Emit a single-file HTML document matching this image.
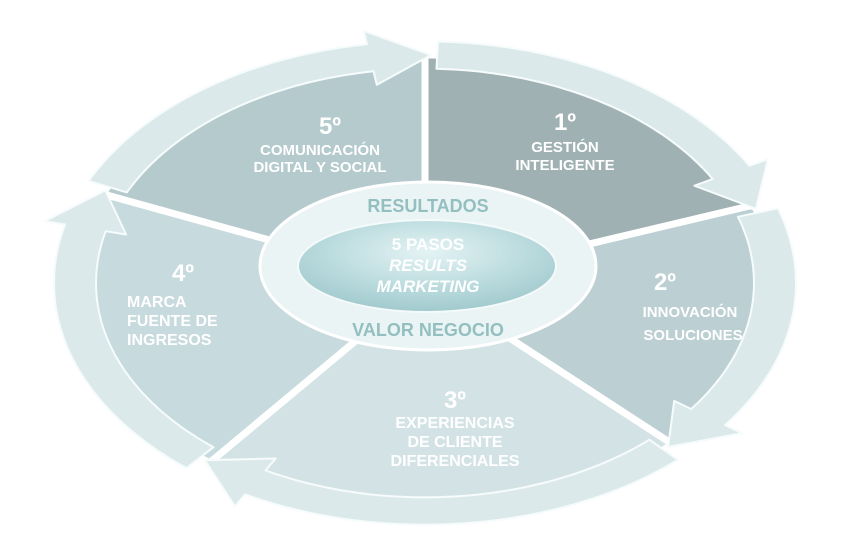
<!DOCTYPE html>
<html><head><meta charset="utf-8">
<style>
html,body{margin:0;padding:0;background:#fff;}
svg{display:block;}
text{font-family:"Liberation Sans",sans-serif;font-weight:bold;fill:#fff;}
</style></head>
<body>
<svg id="s" width="850" height="555" viewBox="0 0 850 555" xmlns="http://www.w3.org/2000/svg">
<defs>
<radialGradient id="inner" cx="50%" cy="35%" r="70%">
<stop offset="0" stop-color="#e4f3f4"/><stop offset="0.6" stop-color="#b7d9dc"/><stop offset="1" stop-color="#9cc6ca"/>
</radialGradient>
</defs>
<g id="wedges"></g>
<g id="bands"></g>
<ellipse cx="428" cy="266" rx="168" ry="84" fill="#eaf4f5" stroke="#fff" stroke-width="3"/>
<ellipse cx="427" cy="266" rx="129" ry="46" fill="url(#inner)" stroke="#f4fafa" stroke-width="2"/>
<text x="428" y="212" text-anchor="middle" font-size="18" style="fill:#93bfc0">RESULTADOS</text>
<text x="428" y="336" text-anchor="middle" font-size="18" style="fill:#93bfc0">VALOR NEGOCIO</text>
<text x="428" y="250" text-anchor="middle" font-size="17">5 PASOS</text>
<text x="428" y="271" text-anchor="middle" font-size="17" font-style="italic">RESULTS</text>
<text x="428" y="292" text-anchor="middle" font-size="17" font-style="italic">MARKETING</text>

<g font-size="15">
<text x="330" y="134" text-anchor="middle" font-size="24">5º</text>
<text x="320" y="155" text-anchor="middle">COMUNICACIÓN</text>
<text x="320" y="172" text-anchor="middle">DIGITAL Y SOCIAL</text>
<text x="565" y="130" text-anchor="middle" font-size="24">1º</text>
<text x="565" y="152" text-anchor="middle">GESTIÓN</text>
<text x="565" y="170" text-anchor="middle">INTELIGENTE</text>
<text x="665" y="290" text-anchor="middle" font-size="24">2º</text>
<text x="690" y="317" text-anchor="middle">INNOVACIÓN</text>
<text x="693" y="340" text-anchor="middle">SOLUCIONES</text>
<text x="455" y="408" text-anchor="middle" font-size="24">3º</text>
<text x="455" y="428" text-anchor="middle" font-size="16">EXPERIENCIAS</text>
<text x="455" y="447" text-anchor="middle" font-size="16">DE CLIENTE</text>
<text x="455" y="466" text-anchor="middle" font-size="16">DIFERENCIALES</text>
<text x="183" y="281" text-anchor="middle" font-size="24">4º</text>
<text x="127" y="307" font-size="16">MARCA</text>
<text x="127" y="326" font-size="16">FUENTE DE</text>
<text x="127" y="345" font-size="16">INGRESOS</text>
</g>
</svg>
<script>
var cx=425,cy=283,rx=350,ry=228;
var R=Math.PI/180;
function P(sx,sy,t){return [(cx+sx*Math.cos(t*R)).toFixed(1),(cy+sy*Math.sin(t*R)).toFixed(1)];}
var segs=[[-90,-20,'#a0b1b3'],[-20,45,'#bccfd3'],[45,128,'#d3e3e5'],[128,203,'#c7dadd'],[203,270,'#b5cacd']];
var w='',b='';
segs.forEach(function(s){
  var a=s[0],e=s[1];
  var p=[];
  for(var t=a;t<=e;t+=1)p.push(P(rx,ry,t).join(','));
  w+='<polygon points="'+cx+','+cy+' '+p.join(' ')+'" fill="'+s[2]+'" stroke="#fff" stroke-width="7" stroke-linejoin="round"/>';
  var ir=0.94,or=1.06,hi=0.88,ho=1.12;
  var a1=a+2,h=e-9,tip=e+1;
  var pts=[];
  for(var t=a1;t<=h;t+=1)pts.push(P(rx*or,ry*or,t).join(','));
  pts.push(P(rx*ho,ry*ho,h).join(','));
  pts.push(P(rx*1.0,ry*1.0,tip).join(','));
  pts.push(P(rx*hi,ry*hi,h).join(','));
  for(var t=h;t>=a1;t-=1)pts.push(P(rx*ir,ry*ir,t).join(','));
  b+='<polygon points="'+pts.join(' ')+'" fill="#dce9eb" stroke="#f6fbfb" stroke-width="2" stroke-linejoin="round"/>';
});
document.getElementById('wedges').innerHTML=w;
document.getElementById('bands').innerHTML=b;
</script>
</body></html>
